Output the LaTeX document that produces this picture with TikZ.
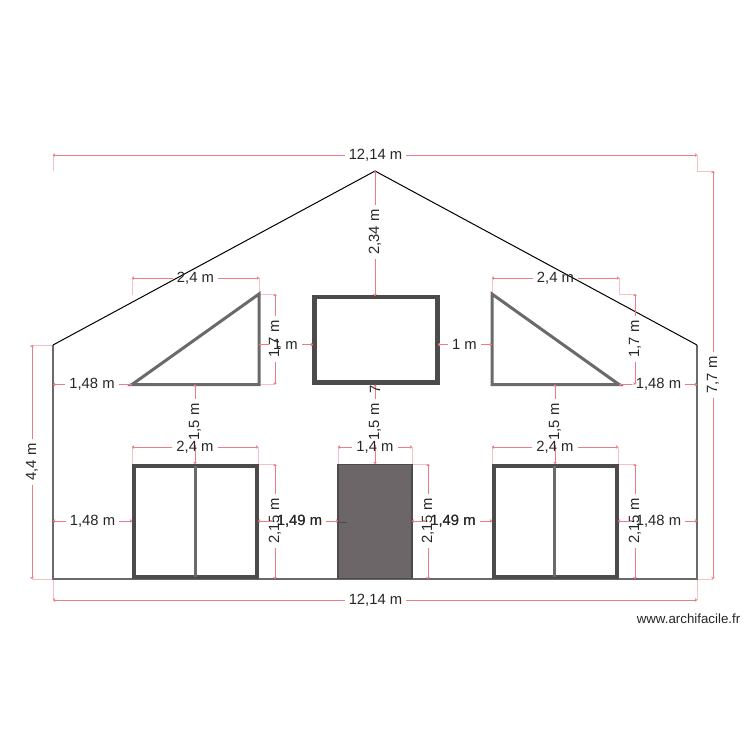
\documentclass[tikz,border=0pt]{standalone}
\usepackage{fontspec}
\setmainfont{Liberation Sans}
\usetikzlibrary{arrows.meta}
\definecolor{dimc}{HTML}{EC7C85}
\definecolor{extc}{HTML}{F7C0C4}
\definecolor{wallc}{HTML}{6A6A6A}
\definecolor{framec}{HTML}{4C4A4A}
\definecolor{doorc}{HTML}{6C6668}
\tikzset{
  dimlabel/.style={inner xsep=4pt,inner ysep=0pt,text=black!85,font=\fontsize{14.8}{15}\selectfont},
  dimline/.style={draw=dimc,line width=1pt},
  dimtip/.style={-{Straight Barb[length=1.2pt,width=2.8pt]}},
  extline/.style={draw=extc,line width=1pt},
  roofline/.style={draw=black,line width=1pt},
  wallline/.style={draw=wallc,line width=1.6pt},
  triangleshape/.style={draw=wallc,line width=3pt,line join=miter},
  windowshape/.style={draw=framec,line width=4.2pt,fill=white},
  mullion/.style={draw=wallc,line width=3pt},
  doorshape/.style={draw=framec,line width=1.6pt,fill=doorc},
}
\newcommand{\dimh}[6]{% name, x1, x2, y, label x, text
  \coordinate (#1a) at (#2,#4);
  \coordinate (#1b) at (#3,#4);
  \node[dimlabel] (#1) at (#5,#4) {#6};
  \draw[dimline,dimtip] (#1) -- (#1a);
  \draw[dimline,dimtip] (#1) -- (#1b);
}
\newcommand{\dimv}[6]{% name, x, y1, y2, label y, text
  \coordinate (#1a) at (#2,#3);
  \coordinate (#1b) at (#2,#4);
  \node[dimlabel,rotate=90] (#1) at (#2,#5) {#6};
  \draw[dimline,dimtip] (#1) -- (#1a);
  \draw[dimline,dimtip] (#1) -- (#1b);
}
\begin{document}
\begin{tikzpicture}[x=1pt,y=-1pt]
\useasboundingbox[fill=white] (0,0) rectangle (750,750);

% extension lines
\draw[extline] (53,155) -- (53,171);
\draw[extline] (697,155) -- (697,171) -- (713,171);
\draw[extline] (697,579) -- (713,579);
\draw[extline] (53,579) -- (53,600);
\draw[extline] (697,579) -- (697,600);
\draw[extline] (32,345) -- (53,345);
\draw[extline] (32,579) -- (53,579);
\draw[extline] (132,278) -- (132,295);
\draw[extline] (259,278) -- (259,293);
\draw[extline] (259,294) -- (275,294);
\draw[extline] (259,384.5) -- (275,384.5);
\draw[extline] (492,278) -- (492,293);
\draw[extline] (619,278) -- (619,294) -- (635,294);
\draw[extline] (619,384.5) -- (635,384.5);
\draw[extline] (132,447) -- (132,464);
\draw[extline] (258,447) -- (258,464);
\draw[extline] (338,447) -- (338,464);
\draw[extline] (412,447) -- (412,464);
\draw[extline] (492,447) -- (492,464);
\draw[extline] (618,447) -- (618,464);
\draw[extline] (258,464) -- (275,464);
\draw[extline] (258,579) -- (275,579);
\draw[extline] (412,464) -- (428,464);
\draw[extline] (412,579) -- (428,579);
\draw[extline] (618,464) -- (635,464);
\draw[extline] (618,579) -- (635,579);

% building outline
\coordinate (eaveL) at (53,345);
\coordinate (apex) at (375,171);
\coordinate (eaveR) at (697,345);
\coordinate (footL) at (53,579);
\coordinate (footR) at (697,579);
\draw[wallline] (eaveL) -- (footL) -- (footR) -- (eaveR);
\draw[roofline] (eaveL) -- (apex) -- (eaveR);

% openings
\draw[triangleshape] (132,384.5) -- (259,294) -- (259,384.5) -- cycle;
\draw[triangleshape] (492,294) -- (492,384.5) -- (619,384.5) -- cycle;
\draw[windowshape] (314.5,297) rectangle (437.5,382.5);
\draw[windowshape] (134,466) rectangle (257,577);
\draw[mullion] (195,466) -- (195,577);
\draw[doorshape] (338,464.5) rectangle (412,578.5);
\draw[draw=framec,line width=1pt] (338,522) -- (347,522);
\draw[windowshape] (494,466) rectangle (617,577);
\draw[mullion] (554.5,466) -- (554.5,577);

% dimensions
\dimh{topw}{53}{697}{155}{375.5}{12,14 m}
\dimh{botw}{53}{697}{600}{375.5}{12,14 m}
\dimv{tallh}{713}{171}{579}{375}{7,7 m}
\dimv{eaveh}{32}{345}{579}{462}{4,4 m}
\dimv{apexh}{375}{171}{296}{232}{2,34 m}
\dimh{triLw}{132}{259}{278}{195.5}{2,4 m}
\dimh{triRw}{492}{619}{278}{555.5}{2,4 m}
\dimv{triLh}{275}{294}{384.5}{339}{1,7 m}
\dimv{triRh}{635}{294}{384.5}{339}{1,7 m}
\dimh{gapL}{259}{313}{344.5}{285.5}{1 m}
\dimh{gapR}{438}{492}{344.5}{464.5}{1 m}
\dimh{sillL}{53}{132}{384.5}{92}{1,48 m}
\dimh{sillR}{619}{697}{384.5}{658.5}{1,48 m}
\dimv{vgapL}{195}{384.5}{464}{422}{1,5 m}
\dimv{vgapM}{375}{384.5}{464}{422}{1,5 m}
\dimv{vgapR}{555}{384.5}{464}{422}{1,5 m}
\node[dimlabel,rotate=90,inner xsep=0pt] (seven) at (375,389) {7};
\dimh{winLw}{132}{258}{447}{195}{2,4 m}
\dimh{doorw}{338}{412}{447}{375}{1,4 m}
\dimh{winRw}{492}{618}{447}{555}{2,4 m}
\dimv{winLh}{275}{464}{579}{521}{2,15 m}
\dimv{doorh}{428}{464}{579}{521}{2,15 m}
\dimv{winRh}{635}{464}{579}{521}{2,15 m}
\dimh{baseLL}{53}{132}{521}{92.5}{1,48 m}
\dimh{baseML}{258}{338}{521}{299.5}{1,49 m}
\node[dimlabel] at (299.5,521) {1,49 m};
\dimh{baseMR}{412}{492}{521}{453}{1,49 m}
\node[dimlabel] at (453,521) {1,49 m};
\dimh{baseRR}{618}{697}{521}{658.5}{1,48 m}

\node[text=black!85,inner sep=0pt,font=\fontsize{13.3}{14}\selectfont] (credit) at (688.5,618.5) {www.archifacile.fr};
\end{tikzpicture}
\end{document}
